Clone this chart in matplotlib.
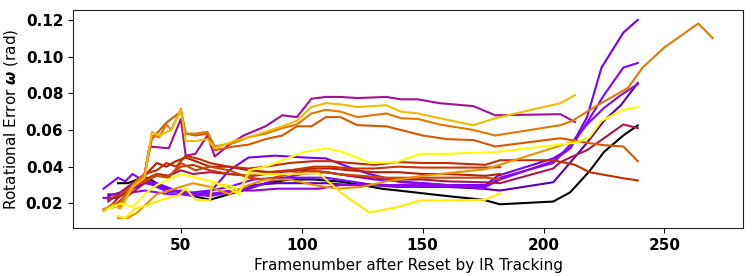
import matplotlib
matplotlib.use("Agg")
import matplotlib.pyplot as plt
import numpy as np

# ---- data ----
black_x = [24, 28, 32, 36, 40, 45, 50, 55, 62, 70, 78, 85, 95, 105, 115, 125, 133, 140, 150, 160, 175, 182, 204, 211, 219, 225, 233, 239]
black_y = [0.031, 0.031, 0.033, 0.034, 0.031, 0.028, 0.026, 0.024, 0.022, 0.025, 0.028, 0.031, 0.033, 0.033, 0.032, 0.030, 0.028, 0.027, 0.0255, 0.024, 0.022, 0.0195, 0.021, 0.026, 0.0375, 0.048, 0.057, 0.0625]

indigo_x = [20, 25, 30, 35, 40, 50, 60, 70, 80, 90, 100, 110, 120, 130, 140, 150, 160, 175, 182, 204, 207, 218, 225, 232, 239]
indigo_y = [0.024, 0.026, 0.030, 0.032, 0.030, 0.026, 0.025, 0.026, 0.030, 0.031, 0.031, 0.031, 0.030, 0.030, 0.029, 0.029, 0.029, 0.028, 0.027, 0.0315, 0.036, 0.053, 0.065, 0.0735, 0.0856]

violet1_x = [20, 25, 30, 35, 40, 45, 50, 55, 62, 70, 78, 89, 101, 110, 121, 128, 135, 141, 150, 160, 176, 181, 204, 211, 218, 224, 233, 239]
violet1_y = [0.022, 0.024, 0.028, 0.031, 0.030, 0.027, 0.026, 0.025, 0.026, 0.038, 0.045, 0.046, 0.045, 0.0445, 0.039, 0.036, 0.0337, 0.0315, 0.031, 0.030, 0.030, 0.035, 0.0445, 0.050, 0.067, 0.094, 0.113, 0.120]

violet2_x = [18, 24, 27, 30, 35, 40, 50, 55, 62, 70, 80, 90, 100, 110, 120, 130, 140, 150, 160, 176, 182, 204, 211, 218, 225, 233, 239]
violet2_y = [0.028, 0.034, 0.032, 0.036, 0.032, 0.031, 0.026, 0.026, 0.027, 0.029, 0.033, 0.034, 0.034, 0.034, 0.032, 0.030, 0.029, 0.029, 0.029, 0.029, 0.033, 0.043, 0.050, 0.064, 0.079, 0.094, 0.0965]

violet3_x = [18, 24, 30, 35, 40, 45, 50, 55, 62, 70, 80, 90, 100, 110, 120, 130, 140, 150, 160, 176, 182, 204, 211, 218, 225, 232, 239]
violet3_y = [0.023, 0.023, 0.030, 0.032, 0.029, 0.026, 0.027, 0.025, 0.024, 0.026, 0.029, 0.033, 0.036, 0.037, 0.035, 0.033, 0.032, 0.031, 0.030, 0.029, 0.034, 0.042, 0.052, 0.063, 0.072, 0.079, 0.085]

violet4_x = [20, 25, 30, 35, 40, 45, 50, 55, 62, 70, 80, 90, 100, 107, 116, 130, 145, 160, 176]
violet4_y = [0.025, 0.025, 0.026, 0.027, 0.026, 0.025, 0.025, 0.024, 0.025, 0.027, 0.027, 0.028, 0.028, 0.028, 0.030, 0.030, 0.030, 0.030, 0.028]

magenta_x = [20, 25, 30, 35, 37, 45, 50, 52, 56, 61, 64, 70, 76, 85, 92, 98, 104, 110, 116, 123, 135, 141, 148, 157, 171, 180, 207, 213]
magenta_y = [0.021, 0.026, 0.031, 0.036, 0.051, 0.050, 0.066, 0.046, 0.047, 0.057, 0.0455, 0.052, 0.057, 0.062, 0.068, 0.067, 0.077, 0.078, 0.078, 0.0774, 0.078, 0.0767, 0.0767, 0.0746, 0.073, 0.068, 0.0686, 0.0643]

crimson_x = [22, 26, 30, 35, 40, 45, 50, 55, 62, 70, 80, 90, 100, 110, 120, 130, 140, 150, 160, 176, 182, 204, 207, 211, 218, 225, 233, 239]
crimson_y = [0.018, 0.022, 0.026, 0.031, 0.036, 0.035, 0.038, 0.036, 0.037, 0.036, 0.035, 0.037, 0.038, 0.037, 0.035, 0.034, 0.033, 0.033, 0.032, 0.0315, 0.031, 0.039, 0.0424, 0.045, 0.049, 0.0555, 0.063, 0.061]

darkred_x = [22, 26, 30, 35, 40, 44, 48, 52, 56, 62, 70, 78, 88, 95, 105, 112, 120, 130, 140, 150, 160, 176, 182]
darkred_y = [0.020, 0.026, 0.030, 0.035, 0.042, 0.040, 0.043, 0.045, 0.043, 0.040, 0.040, 0.038, 0.037, 0.038, 0.039, 0.039, 0.038, 0.037, 0.037, 0.036, 0.036, 0.035, 0.036]

red_x = [20, 25, 30, 35, 40, 44, 48, 52, 58, 62, 70, 78, 85, 95, 105, 112, 120, 130, 140, 150, 160, 176, 182, 204, 213, 219, 233, 239]
red_y = [0.022, 0.025, 0.030, 0.036, 0.038, 0.042, 0.040, 0.046, 0.044, 0.042, 0.040, 0.039, 0.040, 0.042, 0.043, 0.043, 0.042, 0.041, 0.0425, 0.042, 0.042, 0.041, 0.0435, 0.0435, 0.041, 0.037, 0.0337, 0.0325]

redorange1_x = [22, 26, 30, 35, 40, 45, 50, 55, 62, 70, 78, 85, 95, 105, 112, 120, 130, 140, 150, 160, 176, 182]
redorange1_y = [0.018, 0.023, 0.030, 0.033, 0.036, 0.035, 0.040, 0.041, 0.038, 0.036, 0.035, 0.037, 0.038, 0.040, 0.040, 0.039, 0.039, 0.040, 0.0395, 0.0395, 0.0395, 0.0397]

redorange2_x = [25, 30, 35, 40, 45, 50, 56, 62, 70, 78, 85, 95, 105, 115, 125, 135, 145, 160, 176, 182]
redorange2_y = [0.025, 0.029, 0.032, 0.035, 0.034, 0.042, 0.038, 0.040, 0.038, 0.034, 0.033, 0.036, 0.038, 0.036, 0.035, 0.034, 0.034, 0.034, 0.034, 0.033]

darkorange_x = [18, 22, 25, 30, 35, 38, 44, 50, 52, 56, 61, 64, 72, 78, 85, 92, 98, 104, 110, 116, 123, 135, 141, 150, 160, 171, 180, 207, 218, 225, 233, 239]
darkorange_y = [0.016, 0.020, 0.018, 0.028, 0.035, 0.055, 0.064, 0.070, 0.058, 0.057, 0.058, 0.049, 0.051, 0.052, 0.055, 0.057, 0.062, 0.062, 0.067, 0.067, 0.0626, 0.062, 0.060, 0.057, 0.055, 0.0545, 0.051, 0.0555, 0.053, 0.0517, 0.051, 0.043]

orange_x = [18, 22, 25, 30, 35, 38, 41, 44, 46, 50, 52, 56, 61, 64, 72, 78, 85, 92, 98, 104, 110, 116, 123, 135, 141, 148, 157, 171, 180, 207, 212, 218, 224, 235, 241, 250, 264, 270]
orange_y = [0.017, 0.018, 0.020, 0.030, 0.036, 0.057, 0.056, 0.063, 0.060, 0.0715, 0.058, 0.058, 0.059, 0.051, 0.053, 0.056, 0.058, 0.061, 0.063, 0.069, 0.071, 0.070, 0.067, 0.069, 0.0664, 0.066, 0.063, 0.060, 0.057, 0.0626, 0.065, 0.070, 0.0747, 0.083, 0.094, 0.105, 0.118, 0.110]

orangelow_x = [24, 28, 32, 36, 40, 45, 50, 55, 62, 70, 78, 85, 95, 105, 115, 125, 135, 150, 160, 176, 213]
orangelow_y = [0.012, 0.012, 0.015, 0.020, 0.025, 0.027, 0.029, 0.031, 0.029, 0.025, 0.030, 0.033, 0.033, 0.030, 0.028, 0.029, 0.032, 0.035, 0.0364, 0.0386, 0.054]

gold_x = [18, 22, 25, 30, 35, 38, 41, 46, 50, 52, 56, 61, 64, 72, 78, 85, 92, 98, 104, 110, 116, 123, 135, 141, 148, 157, 171, 180, 207, 213]
gold_y = [0.016, 0.019, 0.017, 0.029, 0.034, 0.059, 0.057, 0.060, 0.071, 0.054, 0.054, 0.055, 0.050, 0.054, 0.056, 0.059, 0.062, 0.065, 0.0725, 0.0746, 0.074, 0.0725, 0.0735, 0.070, 0.069, 0.0664, 0.0626, 0.0664, 0.0746, 0.079]

yellowA_x = [20, 25, 30, 35, 40, 45, 50, 56, 63, 70, 74, 78, 85, 92, 101, 110, 117, 128, 139, 149, 160, 180, 213, 219, 224, 233, 239]
yellowA_y = [0.017, 0.020, 0.018, 0.025, 0.030, 0.033, 0.036, 0.034, 0.032, 0.028, 0.025, 0.038, 0.040, 0.0435, 0.048, 0.050, 0.048, 0.042, 0.0424, 0.047, 0.047, 0.048, 0.053, 0.056, 0.065, 0.071, 0.0725]

yellowB_x = [24, 27, 31, 36, 42, 49, 52, 56, 62, 63, 72, 74, 78, 85, 95, 107, 117, 128, 139, 149, 160, 176, 182]
yellowB_y = [0.013, 0.012, 0.017, 0.019, 0.022, 0.0244, 0.028, 0.022, 0.0216, 0.0315, 0.029, 0.0255, 0.0364, 0.036, 0.036, 0.0364, 0.025, 0.015, 0.0178, 0.0216, 0.0216, 0.022, 0.0255]

series = [
    (black_x, black_y, 0.0),
    (indigo_x, indigo_y, 0.12),
    (violet1_x, violet1_y, 0.2),
    (violet2_x, violet2_y, 0.25),
    (violet3_x, violet3_y, 0.28),
    (violet4_x, violet4_y, 0.32),
    (magenta_x, magenta_y, 0.4),
    (crimson_x, crimson_y, 0.45),
    (darkred_x, darkred_y, 0.5),
    (red_x, red_y, 0.56),
    (redorange1_x, redorange1_y, 0.6),
    (redorange2_x, redorange2_y, 0.65),
    (darkorange_x, darkorange_y, 0.7),
    (orange_x, orange_y, 0.78),
    (orangelow_x, orangelow_y, 0.83),
    (gold_x, gold_y, 0.9),
    (yellowA_x, yellowA_y, 1.0),
    (yellowB_x, yellowB_y, 0.97),
]

cmap = plt.get_cmap("gnuplot")

fig = plt.figure(figsize=(7.53, 2.76), dpi=100)
ax = fig.add_axes([0.097, 0.174, 0.89, 0.79])
for xs, ys, c in series:
    ax.plot(xs, ys, color=cmap(c), lw=1.5)

ax.set_xticks([50, 100, 150, 200, 250])
ax.set_yticks([0.02, 0.04, 0.06, 0.08, 0.10, 0.12])
ax.set_yticklabels(["0.02", "0.04", "0.06", "0.08", "0.10", "0.12"])
for lbl in ax.get_xticklabels() + ax.get_yticklabels():
    lbl.set_fontweight("bold")
    lbl.set_fontsize(11)
ax.set_xlabel("Framenumber after Reset by IR Tracking", fontsize=11)
ax.set_ylabel(r"Rotational Error $\boldsymbol{\omega}$ (rad)", fontsize=11)
for s in ax.spines.values():
    s.set_color("#222222")
fig.savefig("out.png", dpi=100)
